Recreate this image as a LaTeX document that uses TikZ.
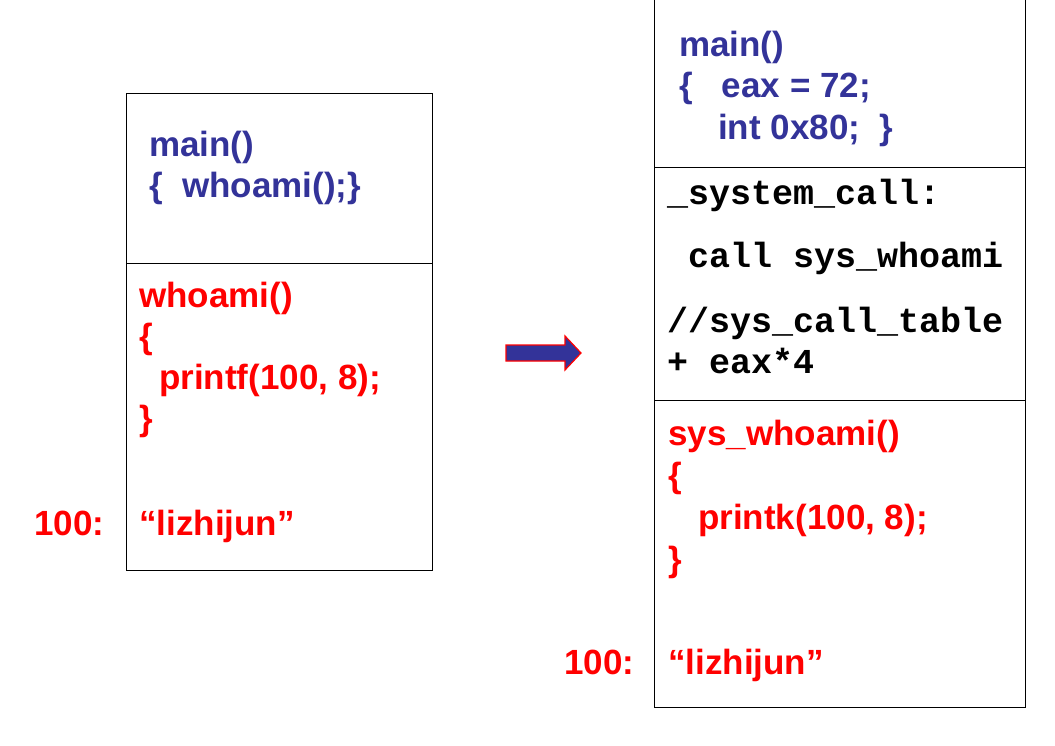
\documentclass[tikz,border=0pt]{standalone}
\usepackage{fontspec}
\setmainfont{Liberation Sans}
\newfontfamily\asmfont{Liberation Mono}
\usepackage{xcolor}
\usepackage{tikz}
\usetikzlibrary{positioning}

\definecolor{codeblue}{HTML}{333399}
\definecolor{codered}{HTML}{FF0000}

\begin{document}
\begin{tikzpicture}[
  x=1pt, y=-1pt,
  line/.style={draw, line width=0.9pt},
  ctext/.style={anchor=base west, inner sep=0pt, font=\fontsize{35}{42}\selectfont\bfseries},
  bluetext/.style={ctext, text=codeblue},
  redtext/.style={ctext, text=codered},
  asmtext/.style={anchor=base west, inner sep=0pt, font=\fontsize{35}{42}\selectfont\asmfont\bfseries},
  bigarrow/.style={fill=codeblue, draw=codered, line width=1.2pt}
]
\useasboundingbox (0,0) rectangle (1055,746);

% user program
\draw[line] (126,93) rectangle (432,570);
\draw[line] (126,263) -- (432,263);
\node[bluetext] (lmain) at (149,157) {main()};
\node[bluetext] (lcall) at (149,198) {\{\ \ whoami();\}};
\node[redtext] (lwho) at (139,307) {whoami()};
\node[redtext] (lopen) at (139,348) {\{};
\node[redtext] (lprint) at (159,389) {printf(100, 8);};
\node[redtext] (lclose) at (139,430) {\}};
\node[redtext] (lstr) at (139,535) {“lizhijun”};
\node[redtext] (laddr) at (34,535) {100:};

% arrow
\draw[bigarrow] (506,345) -- (565,345) -- (565,336) -- (581,353)
  -- (565,370) -- (565,361) -- (506,361) -- cycle;

% kernel side
\draw[line] (654,0) -- (654,707) -- (1025,707) -- (1025,0);
\draw[line] (654,167) -- (1025,167);
\draw[line] (654,400) -- (1025,400);
\node[bluetext] (rmain) at (679,57) {main()};
\node[bluetext] (reax) at (679,98) {\{\ \ \ eax = 72;};
\node[bluetext] (rint) at (718,140) {int 0x80;\ \ \}};
\node[asmtext] (rsys) at (667,205) {\_system\_call:};
\node[asmtext] (rcall) at (688,268) {call sys\_whoami};
\node[asmtext] (rtab) at (667,332) {//sys\_call\_table};
\node[asmtext] (roff) at (667,373) {+ eax*4};
\node[redtext] (rwho) at (668,445) {sys\_whoami()};
\node[redtext] (ropen) at (668,487) {\{};
\node[redtext] (rprint) at (698,529) {printk(100, 8);};
\node[redtext] (rclose) at (668,571) {\}};
\node[redtext] (rstr) at (668,674) {“lizhijun”};
\node[redtext] (raddr) at (564,674) {100:};
\end{tikzpicture}
\end{document}
